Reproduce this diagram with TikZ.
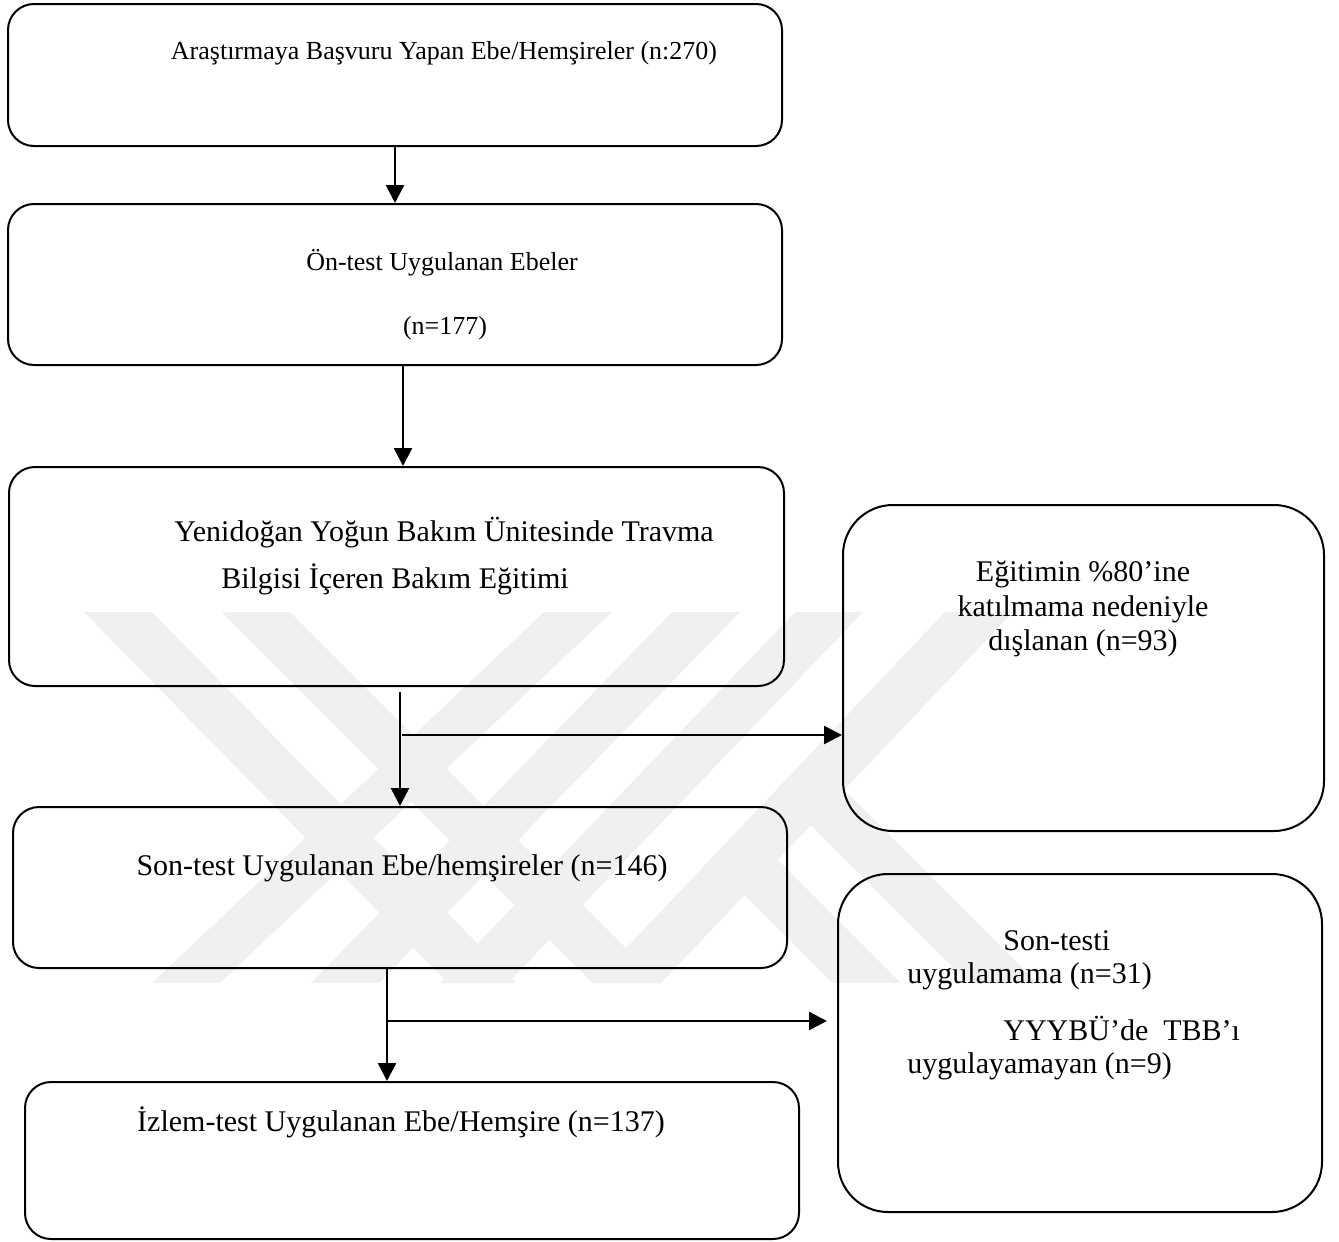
\documentclass[tikz,border=0pt]{standalone}
\usepackage{fontspec}
\setmainfont{Liberation Serif}
\usetikzlibrary{positioning,calc,arrows.meta}
\tikzset{font=\fontsize{15}{18}\selectfont}

\begin{document}
\begin{tikzpicture}[x=0.5pt,y=-0.5pt]
	\tikzstyle{every node}=[align=center, inner sep=0pt]
	\tikzstyle{mainbox}=[draw, line width=1pt, rounded corners=13pt, minimum width=387pt]
	\tikzstyle{sidebox}=[draw, line width=1pt, rounded corners=25pt]
	\tikzstyle{arr}=[line width=1.2pt, -{Triangle[length=9pt,width=9pt]}]
	\tikzstyle{wm}=[fill=black!6]
	\tikzstyle{small}=[font=\fontsize{13}{16}\selectfont]
	\useasboundingbox (0,0) rectangle (1339,1242);

	\foreach \xa/\xb/\ya in {84/448/612, 222/593/612, 544/152/612, 672/311/612, 795/440/612, 945/593/612, 776/969/790, 710/833/860}
		\fill[wm] (\xa,\ya) -- ++(68,0) -- ({\xb+68},983) -- (\xb,983) -- cycle;

	\node[mainbox, minimum height=71pt] (b1) at (395,75) {};
	\node[mainbox, minimum height=80.5pt] (b2) at (395,284.5) {};
	\node[mainbox, minimum height=109.5pt, minimum width=387.5pt] (b3) at (396.5,576.5) {};
	\node[mainbox, minimum height=80.5pt] (b4) at (400,887.5) {};
	\node[mainbox, minimum height=78.5pt] (b5) at (412,1160.5) {};
	\node[sidebox, minimum width=240.5pt, minimum height=163pt] (r1) at (1083.5,668) {};
	\node[sidebox, minimum width=242pt, minimum height=169pt] (r2) at (1080,1043) {};

	\node[small] (t1) at (444,53) {Araştırmaya Başvuru Yapan Ebe/Hemşireler (n:270)};
	\node[small] (t2a) at (442,263) {Ön-test Uygulanan Ebeler};
	\node[small] (t2b) at (445,328) {(n=177)};
	\node (t3a) at (444,533) {Yenidoğan Yoğun Bakım Ünitesinde Travma};
	\node (t3b) at (395,579) {Bilgisi İçeren Bakım Eğitimi};
	\node (t4) at (402,868) {Son-test Uygulanan Ebe/hemşireler (n=146)};
	\node (t5) at (401,1122) {İzlem-test Uygulanan Ebe/Hemşire (n=137)};
	\node[font=\fontsize{15}{17.25}\selectfont] (r1t) at (1083,609) {Eğitimin \%80’ine\\katılmama nedeniyle\\dışlanan (n=93)};
	\node[anchor=west, align=left, font=\fontsize{15}{16.5}\selectfont] (r2t) at (907,1005) {\hspace*{48pt}Son-testi\\uygulamama (n=31)\\[12pt]\hspace*{48pt}YYYBÜ’de\ \ TBB’ı\\uygulayamayan (n=9)};

	\coordinate (a3s) at (400,692);
	\coordinate (br1) at (402,735);
	\coordinate (a4s) at (387,968);
	\coordinate (br2) at (387,1021);
	\coordinate (br2e) at (827,1021);

	\draw[arr] (b1) -- (b2);
	\draw[arr] ($(b2.south)+(8,0)$) -- ($(b3.north)+(6.5,0)$);
	\draw[arr] (a3s) -- (a3s |- b4.north);
	\draw[arr] (br1) -- (br1 -| r1.west);
	\draw[arr] (a4s) -- (a4s |- b5.north);
	\draw[arr] (br2) -- (br2e);
\end{tikzpicture}
\end{document}
